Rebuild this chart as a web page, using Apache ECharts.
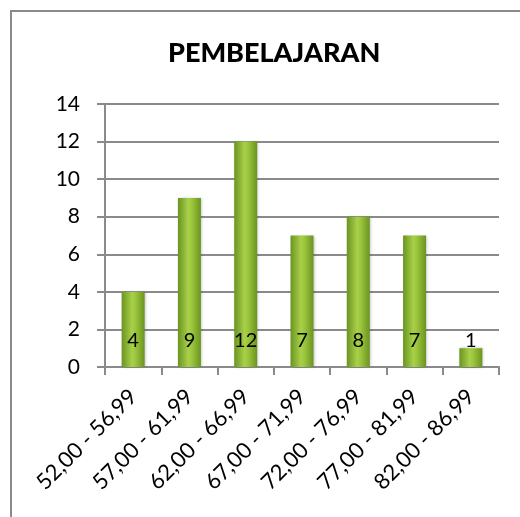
<!DOCTYPE html>
<html>
<head>
<meta charset="utf-8">
<script src="https://cdn.jsdelivr.net/npm/echarts@6/dist/echarts.min.js"></script>
<style>
  html, body { margin: 0; padding: 0; background: #fff; }
  #chart { width: 520px; height: 517px; }
</style>
</head>
<body>
<div id="chart"></div>
<script>
  const categories = ['52,00 - 56,99', '57,00 - 61,99', '62,00 - 66,99', '67,00 - 71,99', '72,00 - 76,99', '77,00 - 81,99', '82,00 - 86,99'];
  const counts = [4, 9, 12, 7, 8, 7, 1];
  const yTicks = { min: 0, max: 14, interval: 2 };

  const fontFamily = 'Lato, "Liberation Sans", sans-serif';
  const chart = echarts.init(document.getElementById('chart'));

  const barColor = new echarts.graphic.LinearGradient(0, 0, 1, 0, [
    { offset: 0, color: '#6a9420' },
    { offset: 0.45, color: '#a8d04a' },
    { offset: 0.6, color: '#9cc63c' },
    { offset: 1, color: '#6a9420' },
  ]);

  chart.setOption({
    animation: false,
    title: {
      text: 'PEMBELAJARAN',
      left: 163,
      top: 35,
      textStyle: {
        fontFamily,
        fontSize: 27,
        fontWeight: 900,
        color: '#000',
      },
    },
    graphic: [
      {
        type: 'rect',
        shape: { x: 11, y: 11, width: 540, height: 540 },
        style: { fill: 'none', stroke: '#8a8a8a', lineWidth: 2 },
        silent: true,
      },
    ],
    grid: {
      left: 105,
      right: 21,
      top: 104,
      bottom: 150,
    },
    xAxis: {
      type: 'category',
      data: categories,
      axisLine: { lineStyle: { color: '#8a8a8a', width: 2 } },
      axisTick: { show: true, length: 8, lineStyle: { color: '#8a8a8a', width: 2 } },
      axisLabel: {
        rotate: 45,
        margin: 26,
        interval: 0,
        fontFamily,
        fontSize: 22,
        color: '#000',
      },
    },
    yAxis: {
      type: 'value',
      min: yTicks.min,
      max: yTicks.max,
      interval: yTicks.interval,
      axisLine: { show: true, lineStyle: { color: '#8a8a8a', width: 2 } },
      axisTick: { show: true, length: 8, lineStyle: { color: '#8a8a8a', width: 2 } },
      axisLabel: {
        margin: 25,
        fontFamily,
        fontSize: 21,
        color: '#000',
      },
      splitLine: { lineStyle: { color: '#8a8a8a', width: 2 } },
    },
    series: [
      {
        type: 'bar',
        data: counts,
        barWidth: 23,
        itemStyle: {
          color: barColor,
          shadowColor: 'rgba(0,0,0,0.25)',
          shadowBlur: 3,
          shadowOffsetX: 1,
        },
        label: {
          show: true,
          position: 'insideBottom',
          distance: 16,
          fontFamily,
          fontSize: 20,
          color: '#000',
        },
      },
    ],
  });
</script>
</body>
</html>
